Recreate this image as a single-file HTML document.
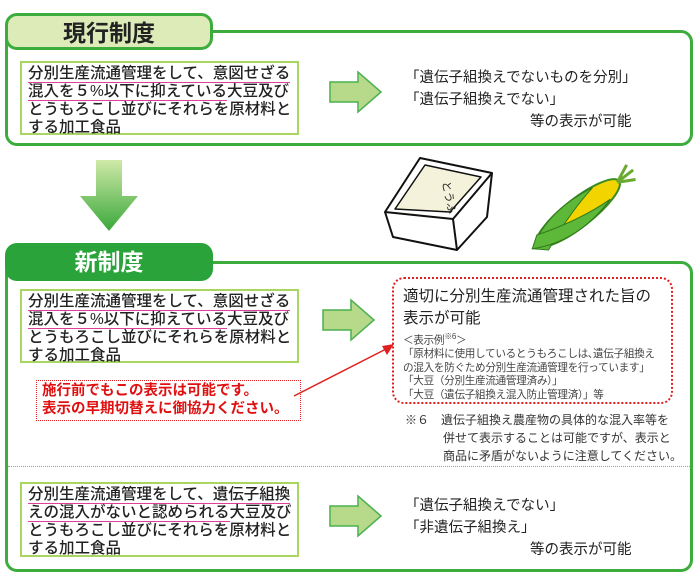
<!DOCTYPE html>
<html><head><meta charset="utf-8"><style>
body{margin:0;width:694px;height:576px;background:#fff;position:relative;overflow:hidden;font-family:"Liberation Sans","Noto Sans CJK JP",sans-serif;color:#222}
.a{position:absolute}
.box{position:absolute;border:3px solid #3cad3c;border-radius:12px;box-sizing:border-box}
.tab{position:absolute;border-radius:12px;box-sizing:border-box;font-weight:bold;font-size:23px;text-align:center;line-height:34px}
.inner{position:absolute;border:2px solid #a8d660;box-sizing:border-box;padding:2px 0 0 6px;font-size:15.5px;line-height:18px;font-weight:500}
.u{border-bottom:1.5px solid #e0409a}
.t{position:absolute;font-size:14.5px;line-height:22px}
</style></head><body>
<div class="box" style="left:5px;top:30px;width:688px;height:116px"></div>
<div class="tab" style="left:5px;top:13px;width:208px;height:37px;background:#dcebb8;border:3px solid #3cad3c">現行制度</div>
<div class="inner" style="left:20px;top:61px;width:279px;height:74px"><span class="u">分別生産流通管理をして、意図せざる</span><br><span class="u">混入を５%以下に抑えている</span>大豆及び<br>とうもろこし並びにそれらを原材料と<br>する加工食品</div>
<svg class="a" style="left:328px;top:70px" width="56" height="44"><polygon points="2,12 30,12 30,2 53,22 30,42 30,32 2,32" fill="#b7da8a" stroke="#4cb050" stroke-width="1.5"/></svg>
<div class="t" style="left:405px;top:67px">「遺伝子組換えでないものを分別」<br>「遺伝子組換えでない」<br><span style="padding-left:125px">等の表示が可能</span></div>

<svg class="a" style="left:76px;top:158px" width="66" height="76"><defs><linearGradient id="g" x1="0" y1="0" x2="0" y2="1"><stop offset="0" stop-color="#cfe9a8"/><stop offset="1" stop-color="#3aa83a"/></linearGradient></defs><polygon points="20,2 46,2 46,38 62,38 33,73 4,38 20,38" fill="url(#g)"/></svg>

<svg class="a" style="left:380px;top:150px" width="270" height="105">
<g fill="#fff" stroke="#111" stroke-width="2" stroke-linejoin="round">
<path d="M5,62 L13,87 L77,100 L107,67 L112,23"/>
<polygon points="5,62 40,8 112,23 73,69"/>
<polygon points="15,59 45,15 101,27 70,62" fill="#f5f2dc" stroke-width="1.5"/>
<path d="M73,69 L77,100" fill="none"/>
</g>
<text x="62" y="32" font-size="11" transform="rotate(78 62 32)" fill="#222">とうふ</text>
<g transform="rotate(-38 198 63)">
<ellipse cx="198" cy="63" rx="52" ry="14" fill="#f2d400" stroke="#3a8a22" stroke-width="2"/>
<path d="M140,63 Q175,42 225,52 Q190,58 152,74Z" fill="#5db83a" stroke="#2d7a1a"/>
<path d="M140,63 Q180,86 232,72 Q195,70 152,55Z" fill="#5db83a" stroke="#2d7a1a"/>
<path d="M248,63 l18,-8 M248,63 l20,0 M248,63 l16,9" stroke="#6aaa30" stroke-width="3"/>
</g></svg>

<div class="box" style="left:5px;top:261px;width:688px;height:311px"></div>
<div class="tab" style="left:5px;top:243px;width:208px;height:38px;background:#2aa33a;color:#fff;line-height:38px">新制度</div>
<div class="inner" style="left:20px;top:289px;width:279px;height:74px"><span class="u">分別生産流通管理をして、意図せざる</span><br><span class="u">混入を５%以下に抑えている</span>大豆及び<br>とうもろこし並びにそれらを原材料と<br>する加工食品</div>
<svg class="a" style="left:321px;top:298px" width="56" height="44"><polygon points="2,12 30,12 30,2 53,22 30,42 30,32 2,32" fill="#b7da8a" stroke="#4cb050" stroke-width="1.5"/></svg>
<div class="a" style="left:392px;top:277px;width:281px;height:127px;border:2px dotted #e02020;border-radius:12px;box-sizing:border-box"></div>
<div class="a" style="left:403px;top:286px;font-size:15.5px;line-height:22px">適切に分別生産流通管理された旨の<br>表示が可能</div>
<div class="a" style="left:403px;top:330px;font-size:10.6px;line-height:13.5px;color:#444;white-space:nowrap;letter-spacing:-0.3px">＜表示例<sup style="font-size:8px">※6</sup>＞<br>「原材料に使用しているとうもろこしは､遺伝子組換え<br>の混入を防ぐため分別生産流通管理を行っています」<br>「大豆（分別生産流通管理済み）」<br>「大豆（遺伝子組換え混入防止管理済）」等</div>
<div class="a" style="left:36px;top:380px;width:265px;height:41px;border:1.5px dotted #e02020;box-sizing:border-box;color:#e01010;font-weight:bold;font-size:14.5px;line-height:18px;padding:1px 0 0 5px">施行前でもこの表示は可能です。<br>表示の早期切替えに御協力ください。</div>
<svg class="a" style="left:290px;top:340px" width="110" height="60"><line x1="4" y1="56" x2="98" y2="8" stroke="#e02020" stroke-width="1.5"/><polygon points="104,4 92,6 97,15" fill="#e02020"/></svg>
<div class="a" style="left:405px;top:411px;font-size:12px;line-height:18px;color:#333">※６　遺伝子組換え農産物の具体的な混入率等を<br><span style="padding-left:38px">併せて表示することは可能ですが、表示と</span><br><span style="padding-left:38px">商品に矛盾がないように注意してください。</span></div>
<div class="a" style="left:8px;top:466px;width:682px;border-top:1.5px dotted #6cc06c"></div>
<div class="inner" style="left:20px;top:482px;width:279px;height:75px"><span class="u">分別生産流通管理をして、遺伝子組換</span><br><span class="u">えの混入がないと認められる</span>大豆及び<br>とうもろこし並びにそれらを原材料と<br>する加工食品</div>
<svg class="a" style="left:328px;top:494px" width="56" height="44"><polygon points="2,12 30,12 30,2 53,22 30,42 30,32 2,32" fill="#b7da8a" stroke="#4cb050" stroke-width="1.5"/></svg>
<div class="t" style="left:405px;top:495px">「遺伝子組換えでない」<br>「非遺伝子組換え」<br><span style="padding-left:125px">等の表示が可能</span></div>
</body></html>
